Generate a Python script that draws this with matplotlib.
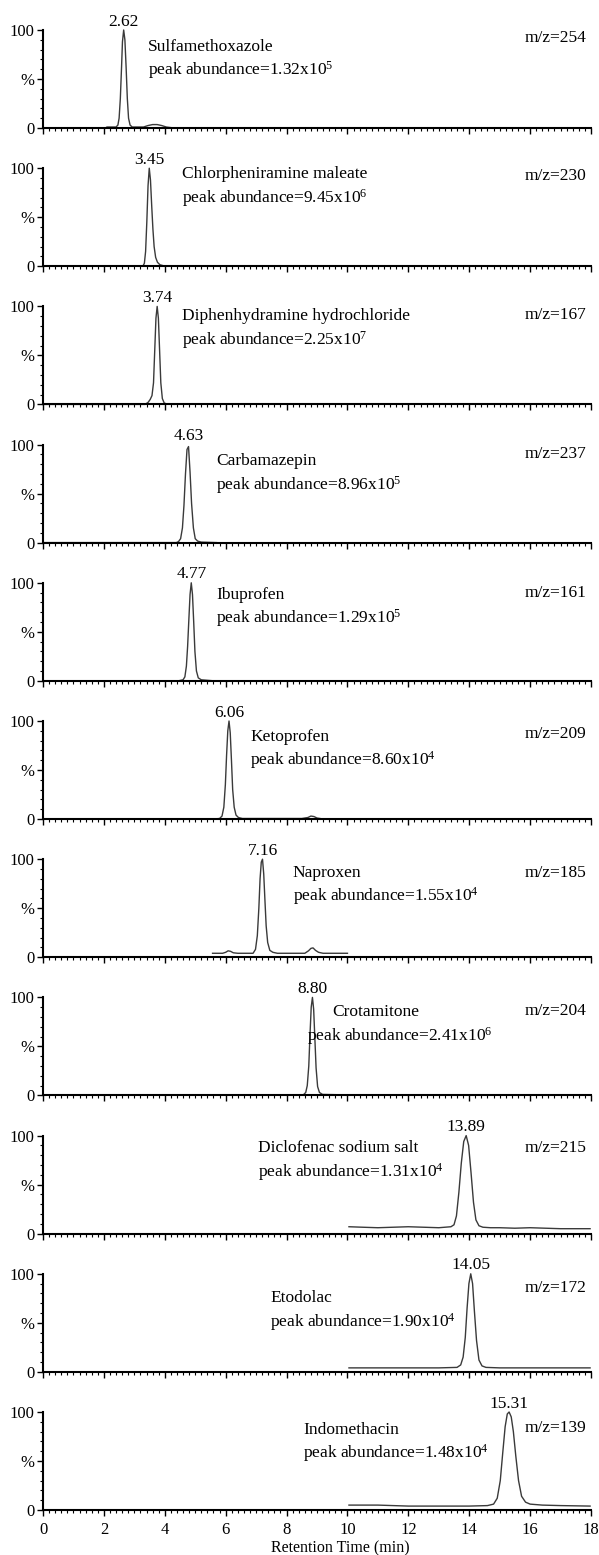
import matplotlib.pyplot as plt
from matplotlib.ticker import MultipleLocator, FixedLocator

plt.rcParams['font.family'] = ['Liberation Serif', 'DejaVu Serif']
plt.rcParams['mathtext.fontset'] = 'custom'
plt.rcParams['mathtext.rm'] = 'Liberation Serif'
plt.rcParams['mathtext.default'] = 'rm'

compounds = ["Sulfamethoxazole", "Chlorpheniramine maleate", "Diphenhydramine hydrochloride",
             "Carbamazepin", "Ibuprofen", "Ketoprofen", "Naproxen", "Crotamitone",
             "Diclofenac sodium salt", "Etodolac", "Indomethacin"]
mz = [254, 230, 167, 237, 161, 209, 185, 204, 215, 172, 139]
rt_labels = ["2.62", "3.45", "3.74", "4.63", "4.77", "6.06", "7.16", "8.80", "13.89", "14.05", "15.31"]
abund_mant = ["1.32", "9.45", "2.25", "8.96", "1.29", "8.60", "1.55", "2.41", "1.31", "1.90", "1.48"]
abund_exp = [5, 6, 7, 5, 5, 4, 4, 6, 4, 4, 4]

# traces (retention time, % of base peak)
sulfa_x = [0, 2.05, 2.1, 2.4, 2.46, 2.5, 2.54, 2.58, 2.61, 2.65, 2.69, 2.73, 2.77, 2.81, 2.86, 2.93, 3.0,
           3.3, 3.45, 3.6, 3.75, 3.9, 4.05, 4.3]
sulfa_y = [0, 0, 1, 1, 3, 10, 30, 62, 88, 100, 90, 62, 30, 10, 3, 1, 1,
           1, 2.5, 3.5, 3.5, 2.5, 1, 0]
chlor_x = [0, 3.28, 3.33, 3.37, 3.41, 3.45, 3.49, 3.53, 3.57, 3.61, 3.65, 3.7, 3.76, 3.84, 3.95, 4.35]
chlor_y = [0, 0, 3, 15, 45, 82, 100, 88, 62, 38, 20, 9, 4, 1.5, 0.5, 0]
diphen_x = [0, 3.35, 3.45, 3.52, 3.58, 3.63, 3.67, 3.71, 3.75, 3.79, 3.83, 3.87, 3.92, 3.98, 4.05, 4.3]
diphen_y = [0, 0, 2, 5, 9, 22, 55, 88, 100, 88, 55, 22, 6, 1.5, 0.5, 0]
carba_x = [0, 4.38, 4.45, 4.52, 4.58, 4.63, 4.68, 4.73, 4.78, 4.83, 4.88, 4.94, 5.0, 5.08, 5.2, 5.7]
carba_y = [0, 0, 1, 4, 15, 38, 70, 95, 98, 72, 40, 15, 4, 1.5, 0.5, 0]
ibu_x = [0, 4.45, 4.6, 4.66, 4.71, 4.75, 4.79, 4.83, 4.87, 4.91, 4.95, 4.99, 5.04, 5.1, 5.2, 5.6]
ibu_y = [0, 0, 1, 4, 15, 35, 62, 88, 100, 88, 60, 30, 10, 3, 1, 0]
keto_x = [0, 5.6, 5.8, 5.88, 5.94, 5.99, 6.03, 6.07, 6.11, 6.15, 6.19, 6.23, 6.28, 6.34, 6.42, 6.55,
          8.5, 8.7, 8.8, 8.9, 9.0, 9.1]
keto_y = [0, 0, 0.5, 3, 12, 35, 65, 90, 100, 88, 60, 30, 12, 4, 1.5, 0.5,
          0.5, 1.5, 3, 2.5, 1, 0.5]
napro_x = [5.57, 5.9, 6.0, 6.08, 6.16, 6.25, 6.4, 6.9, 6.98, 7.04, 7.09, 7.13, 7.17, 7.21, 7.25, 7.29,
           7.33, 7.38, 7.45, 7.55, 7.7, 8.6, 8.72, 8.8, 8.87, 8.95, 9.05, 9.2, 10.0]
napro_y = [4, 4, 5, 6.5, 6, 4.5, 4, 4, 8, 22, 50, 80, 97, 100, 85, 58,
           32, 15, 7, 5, 4, 4, 6.5, 9, 9.5, 7, 5, 4, 4]
crota_x = [3.5, 8.55, 8.63, 8.68, 8.73, 8.77, 8.81, 8.85, 8.89, 8.93, 8.97, 9.02, 9.08, 9.18, 10.0]
crota_y = [0.5, 0.5, 3, 10, 30, 62, 90, 100, 88, 58, 28, 9, 3, 1, 0.5]
diclo_x = [10.05, 10.5, 11.0, 11.5, 12.0, 12.5, 13.0, 13.4, 13.5, 13.58, 13.66, 13.74, 13.82, 13.9,
           13.98, 14.06, 14.14, 14.22, 14.32, 14.45, 14.7, 15.0, 15.5, 16.0, 16.5, 17.0, 17.5, 17.97]
diclo_y = [7, 6.5, 6, 6.5, 7, 6.5, 6, 7, 9, 18, 42, 72, 94, 100, 90, 62,
           32, 14, 8, 6.5, 6, 6, 5.5, 6, 5.5, 5, 5, 5]
etod_x = [10.05, 11.0, 12.0, 13.0, 13.6, 13.72, 13.8, 13.87, 13.93, 13.99, 14.05, 14.11, 14.17, 14.24,
          14.32, 14.42, 14.55, 15.0, 16.0, 17.0, 17.97]
etod_y = [4, 4, 4, 4, 4.5, 7, 15, 35, 65, 90, 100, 90, 62, 32, 12, 6, 4.5, 4, 4, 4, 4]
indo_x = [10.05, 11.0, 12.0, 13.0, 14.0, 14.6, 14.8, 14.92, 15.02, 15.1, 15.18, 15.25, 15.31, 15.38,
          15.45, 15.53, 15.62, 15.72, 15.85, 16.0, 16.4, 17.0, 17.97]
indo_y = [5, 5, 4, 4, 4, 4.5, 6, 12, 30, 58, 85, 98, 100, 95, 80, 55, 30, 14, 8, 6, 5, 4.5, 4]

xs = [sulfa_x, chlor_x, diphen_x, carba_x, ibu_x, keto_x, napro_x, crota_x, diclo_x, etod_x, indo_x]
ys = [sulfa_y, chlor_y, diphen_y, carba_y, ibu_y, keto_y, napro_y, crota_y, diclo_y, etod_y, indo_y]

# label positions (x in minutes, y in %)
name_x = [3.45, 4.57, 4.57, 5.68, 5.68, 6.8, 8.21, 9.5, 7.06, 7.46, 8.54]
abund_x = [3.45, 4.57, 4.57, 5.68, 5.68, 6.8, 8.21, 8.67, 7.06, 7.46, 8.54]
name_y = [83, 94, 90, 83, 88, 84, 86, 85, 87, 75, 82]
mz_y = [92, 92, 91, 90, 90, 87, 86, 86, 87, 86, 84]

W, H = 599, 1555
fig = plt.figure(figsize=(W / 100, H / 100), dpi=100)
left, right = 43 / W, 591 / W
step = 138.2
ph = 98
fs = 12.5

for i in range(11):
    y0 = 128 + step * i
    ax = fig.add_axes([left, 1 - y0 / H, right - left, ph / H])
    ax.plot(xs[i], ys[i], color='#3a3a3a', lw=1.0, clip_on=False)
    ax.set_xlim(0, 18)
    ax.set_ylim(0, 100)
    for s in ['top', 'right']:
        ax.spines[s].set_visible(False)
    ax.spines['left'].set_linewidth(1.5)
    ax.spines['bottom'].set_linewidth(1.5)
    ax.xaxis.set_major_locator(MultipleLocator(2))
    ax.xaxis.set_minor_locator(MultipleLocator(0.2))
    ax.yaxis.set_major_locator(FixedLocator([0, 50, 100]))
    ax.yaxis.set_minor_locator(MultipleLocator(10))
    ax.set_yticklabels(["0", "%", "100"])
    ax.tick_params(which='major', length=4, width=1, labelsize=12, pad=2)
    ax.tick_params(axis='x', which='major', pad=5)
    ax.tick_params(which='minor', length=2.5, width=0.8)
    if i < 10:
        ax.tick_params(axis='x', labelbottom=False)
    # peak retention time label
    k = ys[i].index(max(ys[i]))
    ax.text(xs[i][k], 100.5, rt_labels[i], ha='center', va='bottom', fontsize=fs)
    ax.text(name_x[i], name_y[i], compounds[i], ha='left', va='center', fontsize=fs)
    ax.text(abund_x[i], name_y[i] - 24,
            "peak abundance=" + abund_mant[i] + "x10$^{" + str(abund_exp[i]) + "}$",
            ha='left', va='center', fontsize=fs)
    ax.text(17.85, mz_y[i], "m/z=" + str(mz[i]), ha='right', va='center', fontsize=fs)
    if i == 10:
        ax.text((340 - 43) / 548, -(1548 - y0) / ph, "Retention Time (min)",
                transform=ax.transAxes, ha='center', va='center', fontsize=11.5)

fig.savefig("out.png", dpi=100)
